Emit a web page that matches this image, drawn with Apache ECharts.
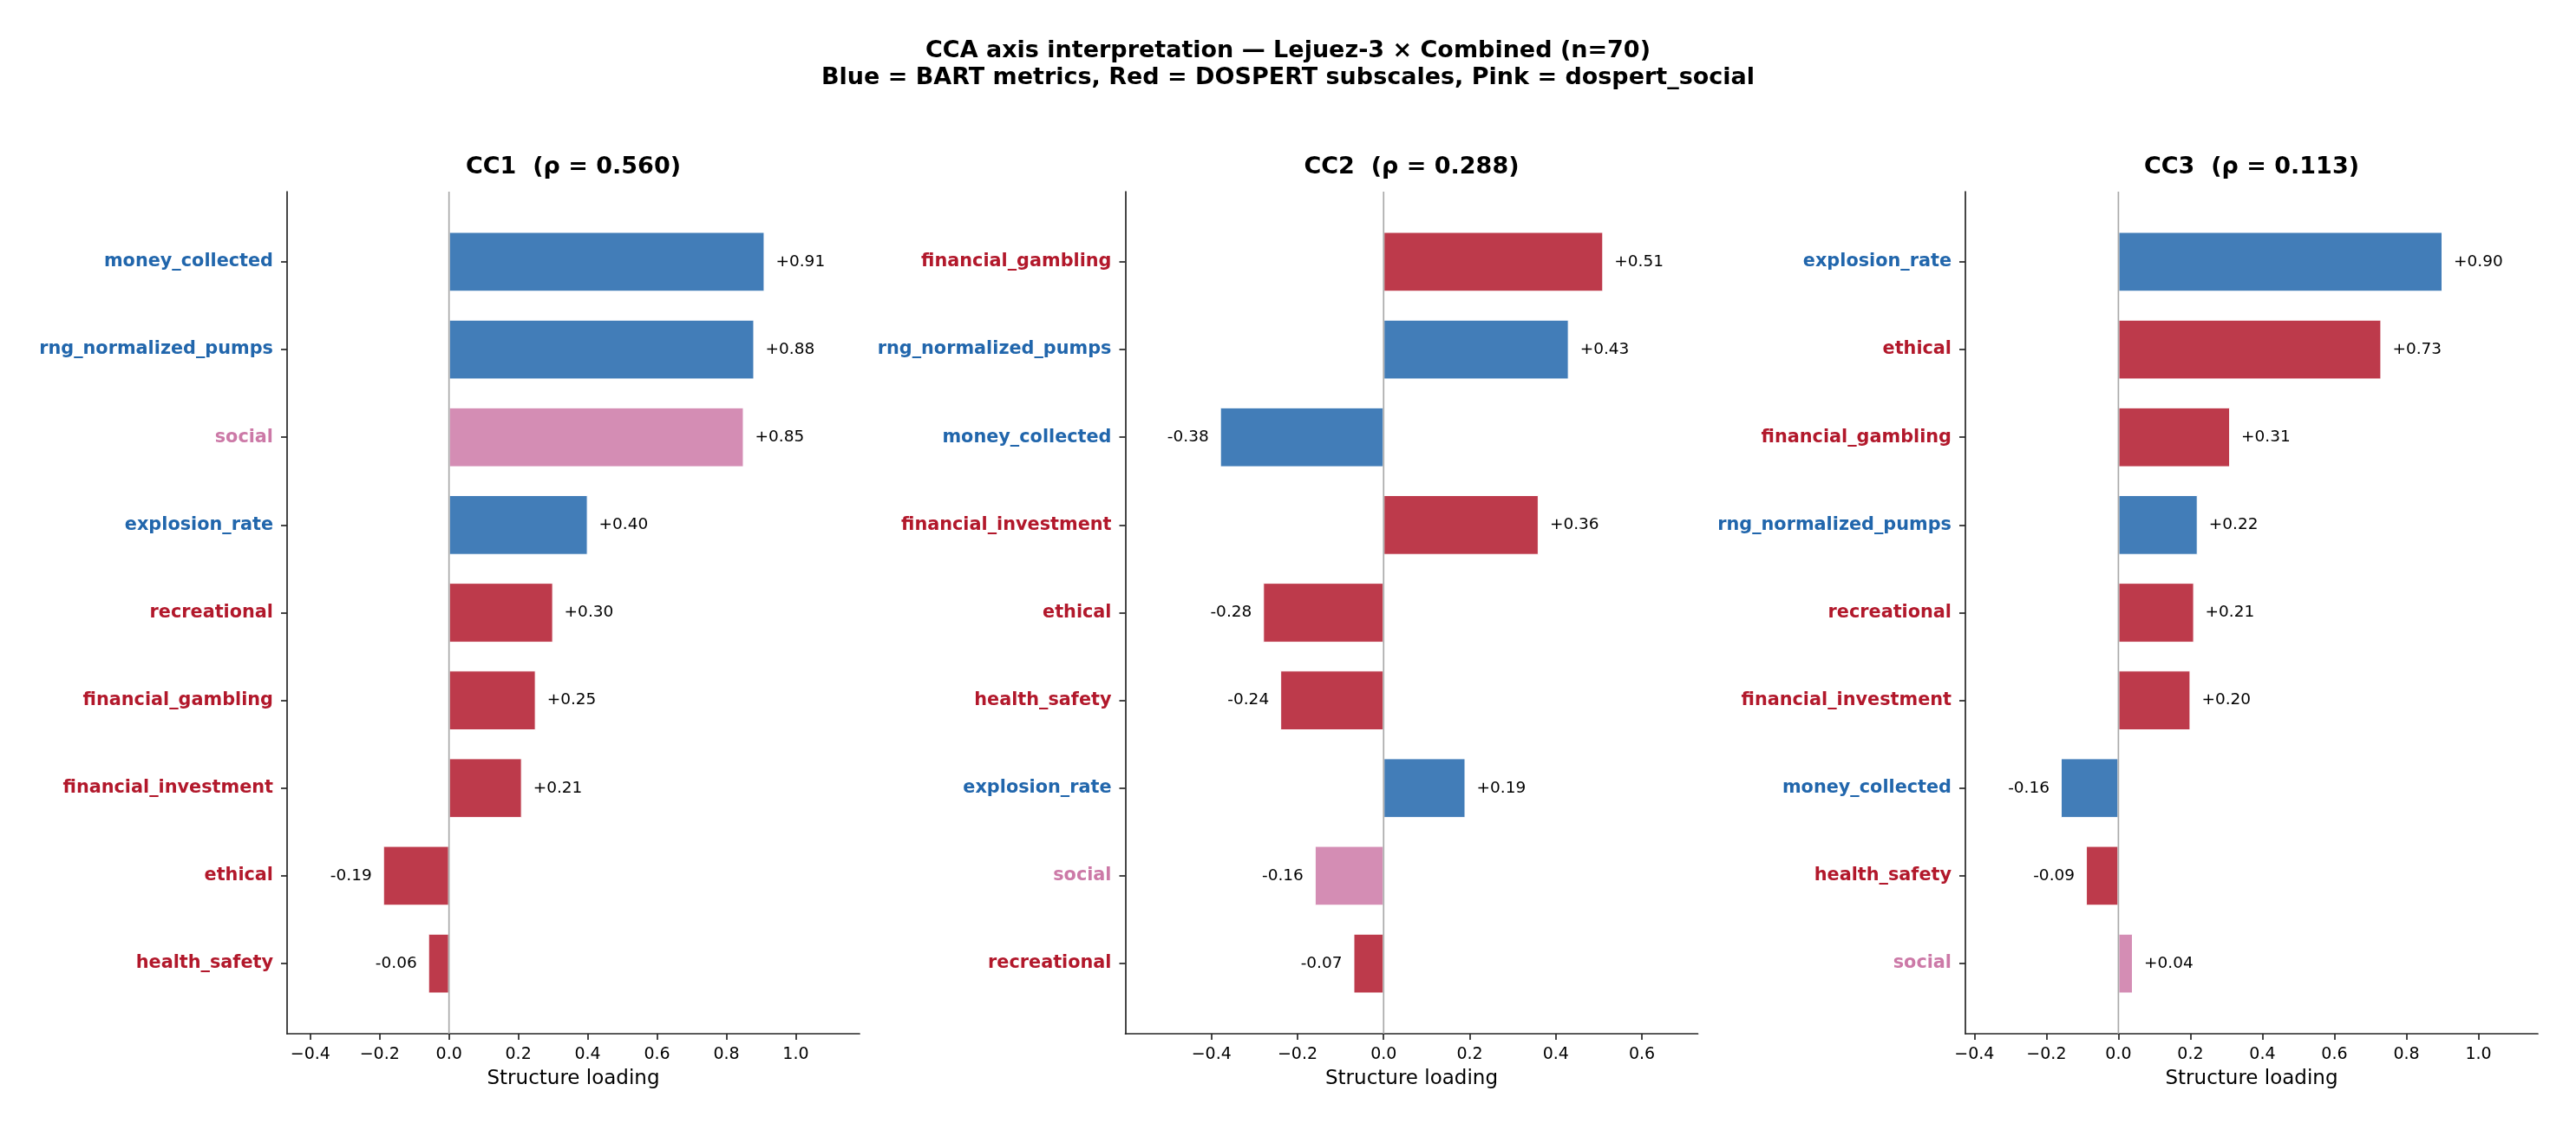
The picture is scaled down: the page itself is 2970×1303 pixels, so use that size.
<!DOCTYPE html>
<html>
<head>
<meta charset="utf-8">
<title>CCA axis interpretation</title>
<script src="https://cdn.jsdelivr.net/npm/echarts@6/dist/echarts.min.js"></script>
<style>
    html, body { margin: 0; padding: 0; background: #ffffff; }
    #cca-axes { width: 2970px; height: 1303px; }
</style>
</head>
<body>
<div id="cca-axes"></div>
<script>
// values, top to bottom in each panel
var cc1_names = ['money_collected', 'rng_normalized_pumps', 'social', 'explosion_rate', 'recreational',
    'financial_gambling', 'financial_investment', 'ethical', 'health_safety'];
var cc1_values = [0.91, 0.88, 0.85, 0.40, 0.30, 0.25, 0.21, -0.19, -0.06];

var cc2_names = ['financial_gambling', 'rng_normalized_pumps', 'money_collected', 'financial_investment', 'ethical',
    'health_safety', 'explosion_rate', 'social', 'recreational'];
var cc2_values = [0.51, 0.43, -0.38, 0.36, -0.28, -0.24, 0.19, -0.16, -0.07];

var cc3_names = ['explosion_rate', 'ethical', 'financial_gambling', 'rng_normalized_pumps', 'recreational',
    'financial_investment', 'money_collected', 'health_safety', 'social'];
var cc3_values = [0.90, 0.73, 0.31, 0.22, 0.21, 0.20, -0.16, -0.09, 0.04];

var panel_titles = ['CC1  (\u03c1 = 0.560)', 'CC2  (\u03c1 = 0.288)', 'CC3  (\u03c1 = 0.113)'];
var x_ranges = [[-0.467, 1.184], [-0.600, 0.730], [-0.425, 1.165]];
var x_ticks = [
    [-0.4, -0.2, 0.0, 0.2, 0.4, 0.6, 0.8, 1.0],
    [-0.4, -0.2, 0.0, 0.2, 0.4, 0.6],
    [-0.4, -0.2, 0.0, 0.2, 0.4, 0.6, 0.8, 1.0]
];
var bart_metrics = ['money_collected', 'rng_normalized_pumps', 'explosion_rate'];
var pink_metrics = ['social'];

var FONT = 'DejaVu Sans';
var INK = '#262626';
var panel_left = [331, 1297.5, 2266];
var panel_width = 660;
var axes_top = 221;
var axes_height = 971;
// bars sit 0.8 of a row from the spines, rows are 9.6 units tall in total
var row = axes_height / 9.6;

function text_color(name) {
    if (bart_metrics.indexOf(name) >= 0) return '#2166ac';
    if (pink_metrics.indexOf(name) >= 0) return '#cc79a7';
    return '#b2182b';
}

function bar_color(name) {
    if (bart_metrics.indexOf(name) >= 0) return 'rgba(33,102,172,0.85)';
    if (pink_metrics.indexOf(name) >= 0) return 'rgba(204,121,167,0.85)';
    return 'rgba(178,24,43,0.85)';
}

function tick_text(v) {
    var s = Math.abs(v).toFixed(1);
    return v < -1e-9 ? '\u2212' + s : s;
}

function build_option(panels) {
    var option = {
        animation: false,
        backgroundColor: '#ffffff',
        title: {
            text: 'CCA axis interpretation \u2014 Lejuez-3 \u00d7 Combined (n=70)\nBlue = BART metrics, Red = DOSPERT subscales, Pink = dospert_social',
            left: 'center',
            top: 38,
            textStyle: {
                fontFamily: FONT,
                fontSize: 27,
                fontWeight: 'bold',
                color: '#000000',
                lineHeight: 31
            }
        },
        graphic: [],
        grid: [],
        xAxis: [],
        yAxis: [],
        series: []
    };

    for (var p = 0; p < panels.length; p++) {
        var names = panels[p].names;
        var values = panels[p].values;
        var left = panel_left[p];

        option.graphic.push({
            type: 'text',
            x: left + panel_width / 2,
            y: 179,
            silent: true,
            style: {
                text: panel_titles[p],
                align: 'center',
                verticalAlign: 'top',
                fontFamily: FONT,
                fontSize: 27,
                fontWeight: 'bold',
                fill: '#000000'
            }
        });

        // outer grid: spines, x ticks, zero line
        option.grid.push({ left: left, top: axes_top, width: panel_width, height: axes_height });
        // inner grid: one band per bar
        option.grid.push({ left: left, top: axes_top + 0.3 * row, width: panel_width, height: axes_height - 0.6 * row });

        var ga = 2 * p, gb = 2 * p + 1;

        option.xAxis.push({
            gridIndex: ga,
            type: 'value',
            min: x_ranges[p][0],
            max: x_ranges[p][1],
            name: 'Structure loading',
            nameLocation: 'middle',
            nameGap: 41,
            nameTextStyle: { fontFamily: FONT, fontSize: 23, color: '#000000' },
            axisLine: { show: true, onZero: false, lineStyle: { color: INK, width: 1.7 } },
            axisTick: { show: true, length: 7, customValues: x_ticks[p], lineStyle: { color: INK, width: 1.7 } },
            axisLabel: {
                customValues: x_ticks[p],
                margin: 15,
                fontFamily: FONT,
                fontSize: 19,
                color: '#000000',
                formatter: tick_text
            },
            splitLine: { show: false }
        });
        option.yAxis.push({
            gridIndex: ga,
            type: 'value',
            min: 0,
            max: 1,
            axisLine: { show: true, onZero: false, lineStyle: { color: INK, width: 1.7 } },
            axisTick: { show: false },
            axisLabel: { show: false },
            splitLine: { show: false }
        });

        option.xAxis.push({
            gridIndex: gb,
            type: 'value',
            min: x_ranges[p][0],
            max: x_ranges[p][1],
            show: false
        });
        option.yAxis.push({
            gridIndex: gb,
            type: 'category',
            inverse: true,
            data: names,
            axisLine: { show: false, onZero: false },
            axisTick: { show: true, alignWithLabel: true, length: 7, lineStyle: { color: INK, width: 1.7 } },
            axisLabel: {
                margin: 16,
                padding: [5, 0, 0, 0],
                fontFamily: FONT,
                fontSize: 20.8,
                fontWeight: 'bold',
                color: function (value) {
                    return text_color(value);
                }
            },
            splitLine: { show: false }
        });

        var bars = [];
        for (var i = 0; i < values.length; i++) {
            bars.push({
                value: values[i],
                itemStyle: { color: bar_color(names[i]) },
                label: { position: values[i] < 0 ? 'left' : 'right' }
            });
        }
        option.series.push({
            name: panel_titles[p],
            type: 'bar',
            xAxisIndex: gb,
            yAxisIndex: gb,
            barWidth: 0.68 * row,
            z: 2,
            itemStyle: { borderColor: '#ffffff', borderWidth: 1 },
            label: {
                show: true,
                distance: 13,
                padding: [4, 0, 0, 0],
                fontFamily: FONT,
                fontSize: 18.5,
                color: '#000000',
                formatter: function (d) {
                    return (d.value >= 0 ? '+' : '-') + Math.abs(d.value).toFixed(2);
                }
            },
            data: bars
        });

        // vertical line at zero
        option.series.push({
            type: 'line',
            xAxisIndex: ga,
            yAxisIndex: ga,
            silent: true,
            symbol: 'none',
            z: 3,
            lineStyle: { color: '#aaaaaa', width: 1.7 },
            data: [[0, 0], [0, 1]]
        });
    }
    return option;
}

var cca_axes = echarts.init(document.getElementById('cca-axes'));
cca_axes.setOption(build_option([
    { names: cc1_names, values: cc1_values },
    { names: cc2_names, values: cc2_values },
    { names: cc3_names, values: cc3_values }
]));
</script>
</body>
</html>
